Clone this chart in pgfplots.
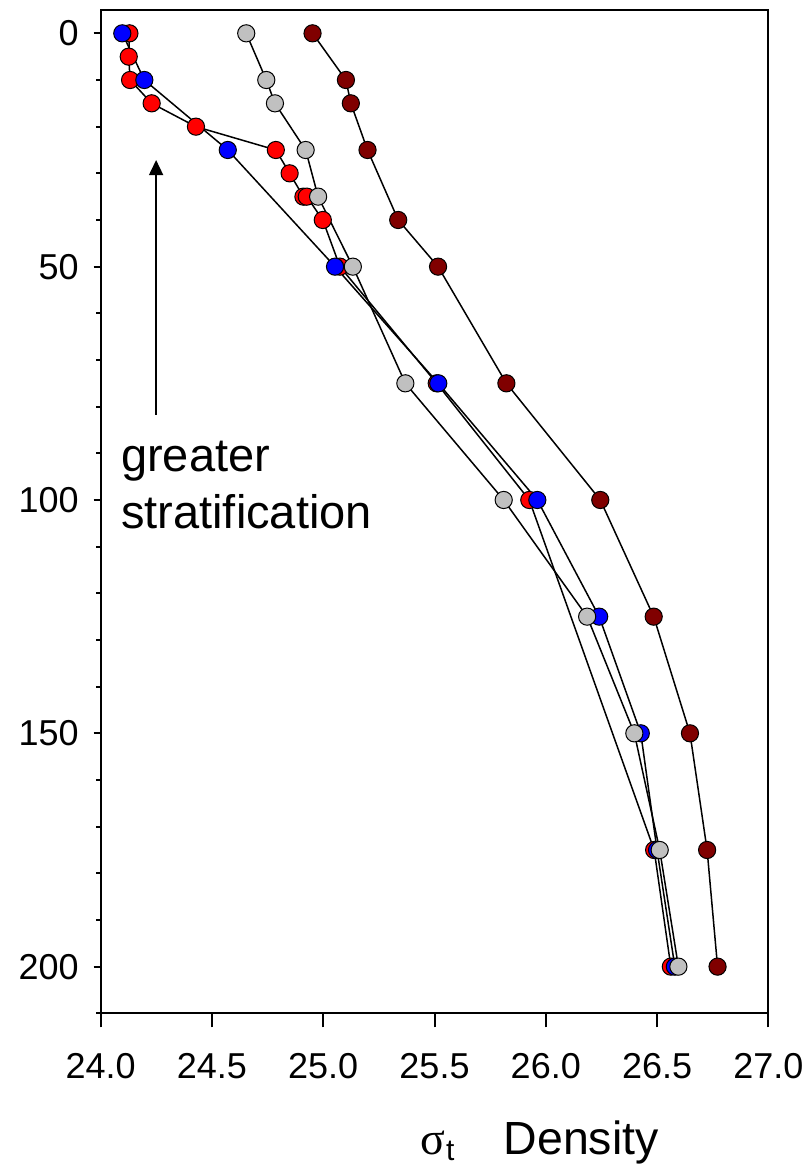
\documentclass[border=0pt]{standalone}
\usepackage{fontspec}
\setmainfont{Liberation Sans}
\newfontfamily\serifgreek{Liberation Serif}
\usepackage{pgfplots}
\pgfplotsset{compat=1.18}
\usetikzlibrary{arrows.meta}
\definecolor{dred}{RGB}{128,0,0}
\definecolor{lgrey}{RGB}{192,192,192}
\begin{document}
\begin{tikzpicture}
\pgfplotsset{
  common/.style={
    scale only axis, width=333.8pt, height=501.65pt,
    at={(0pt,0pt)}, anchor=south west,
    xmin=24, xmax=27, ymin=-5, ymax=210, y dir=reverse,
    axis line style={line width=1pt},
    every tick/.style={black, line width=1pt},
    tick align=outside,
    clip=false,
  },
  ser/.style={black, line width=0.75pt, mark=*, mark size=4.3pt,
    mark options={draw=black, line width=0.5pt, fill=#1}},
}
% y axis + data
\begin{axis}[common,
  xtick=\empty,
  ytick={0,50,100,150,200},
  minor ytick={10,20,30,40,60,70,80,90,110,120,130,140,160,170,180,190,210},
  ytick pos=left,
  major tick length=3.5pt, minor tick length=2.3pt,
  yticklabel style={font=\fontsize{18}{18}\selectfont, xshift=-4pt},
  /pgf/number format/assume math mode=true,
]
% red
\addplot[ser=red] coordinates {
(24.129,0) (24.126,5) (24.132,10) (24.229,15) (24.428,20) (24.787,25)
(24.849,30) (24.911,35) (24.926,35) (24.998,40) (25.075,50) (25.510,75)
(25.926,100) (26.487,175) (26.562,200)};
% blue
\addplot[ser=blue] coordinates {
(24.097,0) (24.196,10) (24.571,25) (25.053,50) (25.517,75) (25.962,100)
(26.240,125) (26.427,150) (26.500,175) (26.580,200)};
% grey
\addplot[ser=lgrey] coordinates {
(24.654,0) (24.744,10) (24.783,15) (24.921,25) (24.977,35) (25.133,50)
(25.369,75) (25.811,100) (26.186,125) (26.398,150) (26.512,175) (26.596,200)};
% dark red
\addplot[ser=dred] coordinates {
(24.952,0) (25.102,10) (25.124,15) (25.199,25) (25.337,40) (25.516,50)
(25.823,75) (26.245,100) (26.485,125) (26.648,150) (26.725,175) (26.772,200)};
\draw[line width=0.75pt, -{Triangle[width=7pt,length=7.5pt]}] (axis cs:24.249,81.7) -- (axis cs:24.249,27.15);
\end{axis}
% x axis ticks
\begin{axis}[common,
  ytick=\empty,
  xtick={24,24.5,25,25.5,26,26.5,27},
  xtick pos=bottom,
  major tick length=7pt,
  xticklabel style={font=\fontsize{18}{18}\selectfont, /pgf/number format/fixed, /pgf/number format/fixed zerofill, /pgf/number format/precision=1, yshift=-9.3pt},
  /pgf/number format/assume math mode=true,
]
\end{axis}
\node[anchor=base west, inner sep=0pt, font=\fontsize{23.5}{28}\selectfont] at (10pt,270.8pt) {greater};
\node[anchor=base west, inner sep=0pt, font=\fontsize{23.5}{28}\selectfont] at (10pt,242.5pt) {stratification};
\node[anchor=base west, inner sep=0pt, font=\fontsize{23}{23}\serifgreek] at (159.65pt,-70.35pt) {σ};
\node[anchor=base west, inner sep=0pt, font=\fontsize{15}{15}\selectfont] at (172.5pt,-73.5pt) {t};
\node[anchor=base west, inner sep=0pt, font=\fontsize{23.25}{23}\selectfont] at (201.3pt,-70.35pt) {Density};
\pgfresetboundingbox
\path[use as bounding box] (-50.35pt,-75.85pt) rectangle (353.65pt,506.65pt);
\end{tikzpicture}
\end{document}
